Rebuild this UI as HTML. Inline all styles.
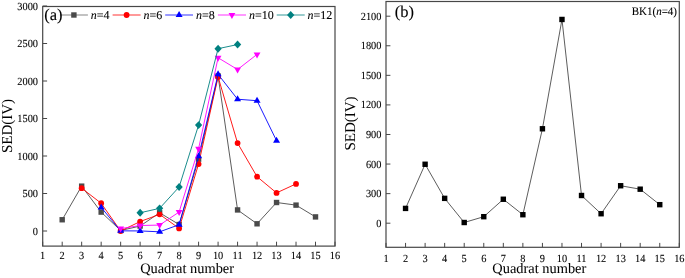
<!DOCTYPE html><html><head><meta charset="utf-8"><style>html,body{margin:0;padding:0;background:#fff;overflow:hidden}svg{display:block;will-change:transform}path{stroke:#000}text{font-family:"Liberation Serif",serif;fill:#000;stroke:#000;text-rendering:geometricPrecision}</style></head><body>
<svg width="685" height="278" viewBox="0 0 685 278">
<line x1="42.70" y1="246.10" x2="42.70" y2="241.70" stroke="#474747" stroke-width="1"/>
<text transform="translate(42.70,259.10) scale(0.94,1.0)" font-size="11" stroke-width="0.1" text-anchor="middle">1</text>
<line x1="62.19" y1="246.10" x2="62.19" y2="241.70" stroke="#474747" stroke-width="1"/>
<text transform="translate(62.19,259.10) scale(0.94,1.0)" font-size="11" stroke-width="0.1" text-anchor="middle">2</text>
<line x1="81.67" y1="246.10" x2="81.67" y2="241.70" stroke="#474747" stroke-width="1"/>
<text transform="translate(81.67,259.10) scale(0.94,1.0)" font-size="11" stroke-width="0.1" text-anchor="middle">3</text>
<line x1="101.16" y1="246.10" x2="101.16" y2="241.70" stroke="#474747" stroke-width="1"/>
<text transform="translate(101.16,259.10) scale(0.94,1.0)" font-size="11" stroke-width="0.1" text-anchor="middle">4</text>
<line x1="120.65" y1="246.10" x2="120.65" y2="241.70" stroke="#474747" stroke-width="1"/>
<text transform="translate(120.65,259.10) scale(0.94,1.0)" font-size="11" stroke-width="0.1" text-anchor="middle">5</text>
<line x1="140.13" y1="246.10" x2="140.13" y2="241.70" stroke="#474747" stroke-width="1"/>
<text transform="translate(140.13,259.10) scale(0.94,1.0)" font-size="11" stroke-width="0.1" text-anchor="middle">6</text>
<line x1="159.62" y1="246.10" x2="159.62" y2="241.70" stroke="#474747" stroke-width="1"/>
<text transform="translate(159.62,259.10) scale(0.94,1.0)" font-size="11" stroke-width="0.1" text-anchor="middle">7</text>
<line x1="179.11" y1="246.10" x2="179.11" y2="241.70" stroke="#474747" stroke-width="1"/>
<text transform="translate(179.11,259.10) scale(0.94,1.0)" font-size="11" stroke-width="0.1" text-anchor="middle">8</text>
<line x1="198.59" y1="246.10" x2="198.59" y2="241.70" stroke="#474747" stroke-width="1"/>
<text transform="translate(198.59,259.10) scale(0.94,1.0)" font-size="11" stroke-width="0.1" text-anchor="middle">9</text>
<line x1="218.08" y1="246.10" x2="218.08" y2="241.70" stroke="#474747" stroke-width="1"/>
<text transform="translate(218.08,259.10) scale(0.94,1.0)" font-size="11" stroke-width="0.1" text-anchor="middle">10</text>
<line x1="237.57" y1="246.10" x2="237.57" y2="241.70" stroke="#474747" stroke-width="1"/>
<text transform="translate(237.57,259.10) scale(0.94,1.0)" font-size="11" stroke-width="0.1" text-anchor="middle">11</text>
<line x1="257.05" y1="246.10" x2="257.05" y2="241.70" stroke="#474747" stroke-width="1"/>
<text transform="translate(257.05,259.10) scale(0.94,1.0)" font-size="11" stroke-width="0.1" text-anchor="middle">12</text>
<line x1="276.54" y1="246.10" x2="276.54" y2="241.70" stroke="#474747" stroke-width="1"/>
<text transform="translate(276.54,259.10) scale(0.94,1.0)" font-size="11" stroke-width="0.1" text-anchor="middle">13</text>
<line x1="296.03" y1="246.10" x2="296.03" y2="241.70" stroke="#474747" stroke-width="1"/>
<text transform="translate(296.03,259.10) scale(0.94,1.0)" font-size="11" stroke-width="0.1" text-anchor="middle">14</text>
<line x1="315.51" y1="246.10" x2="315.51" y2="241.70" stroke="#474747" stroke-width="1"/>
<text transform="translate(315.51,259.10) scale(0.94,1.0)" font-size="11" stroke-width="0.1" text-anchor="middle">15</text>
<line x1="335.00" y1="246.10" x2="335.00" y2="241.70" stroke="#474747" stroke-width="1"/>
<text transform="translate(335.00,259.10) scale(0.94,1.0)" font-size="11" stroke-width="0.1" text-anchor="middle">16</text>
<line x1="42.70" y1="231.00" x2="47.10" y2="231.00" stroke="#474747" stroke-width="1"/>
<text transform="translate(38.00,234.50) scale(0.94,1.0)" font-size="11" stroke-width="0.1" text-anchor="end">0</text>
<line x1="42.70" y1="193.50" x2="47.10" y2="193.50" stroke="#474747" stroke-width="1"/>
<text transform="translate(38.00,197.00) scale(0.94,1.0)" font-size="11" stroke-width="0.1" text-anchor="end">500</text>
<line x1="42.70" y1="156.00" x2="47.10" y2="156.00" stroke="#474747" stroke-width="1"/>
<text transform="translate(38.00,159.50) scale(0.94,1.0)" font-size="11" stroke-width="0.1" text-anchor="end">1000</text>
<line x1="42.70" y1="118.50" x2="47.10" y2="118.50" stroke="#474747" stroke-width="1"/>
<text transform="translate(38.00,122.00) scale(0.94,1.0)" font-size="11" stroke-width="0.1" text-anchor="end">1500</text>
<line x1="42.70" y1="81.00" x2="47.10" y2="81.00" stroke="#474747" stroke-width="1"/>
<text transform="translate(38.00,84.50) scale(0.94,1.0)" font-size="11" stroke-width="0.1" text-anchor="end">2000</text>
<line x1="42.70" y1="43.50" x2="47.10" y2="43.50" stroke="#474747" stroke-width="1"/>
<text transform="translate(38.00,47.00) scale(0.94,1.0)" font-size="11" stroke-width="0.1" text-anchor="end">2500</text>
<line x1="42.70" y1="6.00" x2="47.10" y2="6.00" stroke="#474747" stroke-width="1"/>
<text transform="translate(38.00,9.50) scale(0.94,1.0)" font-size="11" stroke-width="0.1" text-anchor="end">3000</text>
<polyline points="62.19,219.75 81.67,186.15 101.16,212.10 120.65,230.47 140.13,226.05 159.62,212.78 179.11,224.55 198.59,159.15 218.08,75.97 237.57,209.93 257.05,223.80 276.54,202.50 296.03,205.12 315.51,216.90" fill="none" stroke="#4a4a4a" stroke-width="0.9" stroke-linejoin="round"/>
<rect x="59.49" y="217.05" width="5.40" height="5.40" fill="#4a4a4a"/>
<rect x="78.97" y="183.45" width="5.40" height="5.40" fill="#4a4a4a"/>
<rect x="98.46" y="209.40" width="5.40" height="5.40" fill="#4a4a4a"/>
<rect x="117.95" y="227.78" width="5.40" height="5.40" fill="#4a4a4a"/>
<rect x="137.43" y="223.35" width="5.40" height="5.40" fill="#4a4a4a"/>
<rect x="156.92" y="210.08" width="5.40" height="5.40" fill="#4a4a4a"/>
<rect x="176.41" y="221.85" width="5.40" height="5.40" fill="#4a4a4a"/>
<rect x="195.89" y="156.45" width="5.40" height="5.40" fill="#4a4a4a"/>
<rect x="215.38" y="73.27" width="5.40" height="5.40" fill="#4a4a4a"/>
<rect x="234.87" y="207.23" width="5.40" height="5.40" fill="#4a4a4a"/>
<rect x="254.35" y="221.10" width="5.40" height="5.40" fill="#4a4a4a"/>
<rect x="273.84" y="199.80" width="5.40" height="5.40" fill="#4a4a4a"/>
<rect x="293.33" y="202.43" width="5.40" height="5.40" fill="#4a4a4a"/>
<rect x="312.81" y="214.20" width="5.40" height="5.40" fill="#4a4a4a"/>
<polyline points="81.67,188.18 101.16,203.25 120.65,231.00 140.13,221.55 159.62,214.35 179.11,228.38 198.59,164.03 218.08,76.88 237.57,143.10 257.05,176.70 276.54,192.90 296.03,183.90" fill="none" stroke="#ff0000" stroke-width="0.9" stroke-linejoin="round"/>
<circle cx="81.67" cy="188.18" r="2.90" fill="#ff0000"/>
<circle cx="101.16" cy="203.25" r="2.90" fill="#ff0000"/>
<circle cx="120.65" cy="231.00" r="2.90" fill="#ff0000"/>
<circle cx="140.13" cy="221.55" r="2.90" fill="#ff0000"/>
<circle cx="159.62" cy="214.35" r="2.90" fill="#ff0000"/>
<circle cx="179.11" cy="228.38" r="2.90" fill="#ff0000"/>
<circle cx="198.59" cy="164.03" r="2.90" fill="#ff0000"/>
<circle cx="218.08" cy="76.88" r="2.90" fill="#ff0000"/>
<circle cx="237.57" cy="143.10" r="2.90" fill="#ff0000"/>
<circle cx="257.05" cy="176.70" r="2.90" fill="#ff0000"/>
<circle cx="276.54" cy="192.90" r="2.90" fill="#ff0000"/>
<circle cx="296.03" cy="183.90" r="2.90" fill="#ff0000"/>
<polyline points="101.16,207.38 120.65,230.85 140.13,230.93 159.62,231.82 179.11,224.70 198.59,156.23 218.08,74.33 237.57,99.22 257.05,100.72 276.54,140.70" fill="none" stroke="#0000ff" stroke-width="0.9" stroke-linejoin="round"/>
<polygon points="101.16,203.38 104.66,209.38 97.66,209.38" fill="#0000ff"/>
<polygon points="120.65,226.85 124.15,232.85 117.15,232.85" fill="#0000ff"/>
<polygon points="140.13,226.93 143.63,232.93 136.63,232.93" fill="#0000ff"/>
<polygon points="159.62,227.82 163.12,233.82 156.12,233.82" fill="#0000ff"/>
<polygon points="179.11,220.70 182.61,226.70 175.61,226.70" fill="#0000ff"/>
<polygon points="198.59,152.23 202.09,158.23 195.09,158.23" fill="#0000ff"/>
<polygon points="218.08,70.33 221.58,76.33 214.58,76.33" fill="#0000ff"/>
<polygon points="237.57,95.22 241.07,101.22 234.07,101.22" fill="#0000ff"/>
<polygon points="257.05,96.72 260.55,102.72 253.55,102.72" fill="#0000ff"/>
<polygon points="276.54,136.70 280.04,142.70 273.04,142.70" fill="#0000ff"/>
<polyline points="120.65,228.60 140.13,225.53 159.62,225.07 179.11,212.03 198.59,148.65 218.08,57.75 237.57,69.53 257.05,54.38" fill="none" stroke="#ff00ff" stroke-width="0.9" stroke-linejoin="round"/>
<polygon points="120.65,232.60 124.05,226.60 117.25,226.60" fill="#ff00ff"/>
<polygon points="140.13,229.53 143.53,223.53 136.73,223.53" fill="#ff00ff"/>
<polygon points="159.62,229.07 163.02,223.07 156.22,223.07" fill="#ff00ff"/>
<polygon points="179.11,216.03 182.51,210.03 175.71,210.03" fill="#ff00ff"/>
<polygon points="198.59,152.65 201.99,146.65 195.19,146.65" fill="#ff00ff"/>
<polygon points="218.08,61.75 221.48,55.75 214.68,55.75" fill="#ff00ff"/>
<polygon points="237.57,73.53 240.97,67.53 234.17,67.53" fill="#ff00ff"/>
<polygon points="257.05,58.38 260.45,52.38 253.65,52.38" fill="#ff00ff"/>
<polyline points="140.13,212.78 159.62,208.35 179.11,186.97 198.59,125.10 218.08,48.68 237.57,44.55" fill="none" stroke="#008080" stroke-width="0.9" stroke-linejoin="round"/>
<polygon points="140.13,208.83 143.78,212.78 140.13,216.72 136.48,212.78" fill="#008080"/>
<polygon points="159.62,204.40 163.27,208.35 159.62,212.30 155.97,208.35" fill="#008080"/>
<polygon points="179.11,183.03 182.76,186.97 179.11,190.92 175.46,186.97" fill="#008080"/>
<polygon points="198.59,121.15 202.24,125.10 198.59,129.05 194.94,125.10" fill="#008080"/>
<polygon points="218.08,44.73 221.73,48.68 218.08,52.63 214.43,48.68" fill="#008080"/>
<polygon points="237.57,40.60 241.22,44.55 237.57,48.50 233.92,44.55" fill="#008080"/>
<rect x="42.70" y="6.50" width="292.30" height="239.60" fill="none" stroke="#474747" stroke-width="1.2"/>
<line x1="59.90" y1="15.0" x2="87.90" y2="15.0" stroke="#c2c2c2" stroke-width="2"/>
<rect x="71.20" y="12.30" width="5.40" height="5.40" fill="#4a4a4a"/>
<text transform="translate(90.80,19.20)" font-size="12" stroke-width="0.1"><tspan font-style="italic">n</tspan>=4</text>
<line x1="112.60" y1="15.0" x2="140.60" y2="15.0" stroke="#ff9999" stroke-width="2"/>
<circle cx="126.60" cy="15.00" r="2.90" fill="#ff0000"/>
<text transform="translate(143.50,19.20)" font-size="12" stroke-width="0.1"><tspan font-style="italic">n</tspan>=6</text>
<line x1="165.20" y1="15.0" x2="193.00" y2="15.0" stroke="#9999ff" stroke-width="2"/>
<polygon points="179.10,11.00 182.60,17.00 175.60,17.00" fill="#0000ff"/>
<text transform="translate(196.00,19.20)" font-size="12" stroke-width="0.1"><tspan font-style="italic">n</tspan>=8</text>
<line x1="217.90" y1="15.0" x2="246.00" y2="15.0" stroke="#ff99ff" stroke-width="2"/>
<polygon points="231.95,19.00 235.35,13.00 228.55,13.00" fill="#ff00ff"/>
<text transform="translate(248.90,19.20)" font-size="12" stroke-width="0.1"><tspan font-style="italic">n</tspan>=10</text>
<line x1="276.70" y1="15.0" x2="304.70" y2="15.0" stroke="#99cccc" stroke-width="2"/>
<polygon points="290.70,11.05 294.35,15.00 290.70,18.95 287.05,15.00" fill="#008080"/>
<text transform="translate(307.60,19.20)" font-size="12" stroke-width="0.1"><tspan font-style="italic">n</tspan>=12</text>
<text transform="translate(44.30,19.80)" font-size="16.5" stroke-width="0.1">(a)</text>
<text transform="translate(12.00,126.00) rotate(-90)" font-size="15" stroke-width="0.05" text-anchor="middle">SED(IV)</text>
<text transform="translate(187.10,273.10)" font-size="14.4" stroke-width="0.05" text-anchor="middle">Quadrat number</text>
<line x1="386.00" y1="247.30" x2="386.00" y2="242.90" stroke="#474747" stroke-width="1"/>
<text transform="translate(386.00,261.80) scale(0.94,1.0)" font-size="11" stroke-width="0.1" text-anchor="middle">1</text>
<line x1="405.55" y1="247.30" x2="405.55" y2="242.90" stroke="#474747" stroke-width="1"/>
<text transform="translate(405.55,261.80) scale(0.94,1.0)" font-size="11" stroke-width="0.1" text-anchor="middle">2</text>
<line x1="425.11" y1="247.30" x2="425.11" y2="242.90" stroke="#474747" stroke-width="1"/>
<text transform="translate(425.11,261.80) scale(0.94,1.0)" font-size="11" stroke-width="0.1" text-anchor="middle">3</text>
<line x1="444.66" y1="247.30" x2="444.66" y2="242.90" stroke="#474747" stroke-width="1"/>
<text transform="translate(444.66,261.80) scale(0.94,1.0)" font-size="11" stroke-width="0.1" text-anchor="middle">4</text>
<line x1="464.21" y1="247.30" x2="464.21" y2="242.90" stroke="#474747" stroke-width="1"/>
<text transform="translate(464.21,261.80) scale(0.94,1.0)" font-size="11" stroke-width="0.1" text-anchor="middle">5</text>
<line x1="483.77" y1="247.30" x2="483.77" y2="242.90" stroke="#474747" stroke-width="1"/>
<text transform="translate(483.77,261.80) scale(0.94,1.0)" font-size="11" stroke-width="0.1" text-anchor="middle">6</text>
<line x1="503.32" y1="247.30" x2="503.32" y2="242.90" stroke="#474747" stroke-width="1"/>
<text transform="translate(503.32,261.80) scale(0.94,1.0)" font-size="11" stroke-width="0.1" text-anchor="middle">7</text>
<line x1="522.87" y1="247.30" x2="522.87" y2="242.90" stroke="#474747" stroke-width="1"/>
<text transform="translate(522.87,261.80) scale(0.94,1.0)" font-size="11" stroke-width="0.1" text-anchor="middle">8</text>
<line x1="542.43" y1="247.30" x2="542.43" y2="242.90" stroke="#474747" stroke-width="1"/>
<text transform="translate(542.43,261.80) scale(0.94,1.0)" font-size="11" stroke-width="0.1" text-anchor="middle">9</text>
<line x1="561.98" y1="247.30" x2="561.98" y2="242.90" stroke="#474747" stroke-width="1"/>
<text transform="translate(561.98,261.80) scale(0.94,1.0)" font-size="11" stroke-width="0.1" text-anchor="middle">10</text>
<line x1="581.53" y1="247.30" x2="581.53" y2="242.90" stroke="#474747" stroke-width="1"/>
<text transform="translate(581.53,261.80) scale(0.94,1.0)" font-size="11" stroke-width="0.1" text-anchor="middle">11</text>
<line x1="601.09" y1="247.30" x2="601.09" y2="242.90" stroke="#474747" stroke-width="1"/>
<text transform="translate(601.09,261.80) scale(0.94,1.0)" font-size="11" stroke-width="0.1" text-anchor="middle">12</text>
<line x1="620.64" y1="247.30" x2="620.64" y2="242.90" stroke="#474747" stroke-width="1"/>
<text transform="translate(620.64,261.80) scale(0.94,1.0)" font-size="11" stroke-width="0.1" text-anchor="middle">13</text>
<line x1="640.19" y1="247.30" x2="640.19" y2="242.90" stroke="#474747" stroke-width="1"/>
<text transform="translate(640.19,261.80) scale(0.94,1.0)" font-size="11" stroke-width="0.1" text-anchor="middle">14</text>
<line x1="659.75" y1="247.30" x2="659.75" y2="242.90" stroke="#474747" stroke-width="1"/>
<text transform="translate(659.75,261.80) scale(0.94,1.0)" font-size="11" stroke-width="0.1" text-anchor="middle">15</text>
<line x1="679.30" y1="247.30" x2="679.30" y2="242.90" stroke="#474747" stroke-width="1"/>
<text transform="translate(679.30,261.80) scale(0.94,1.0)" font-size="11" stroke-width="0.1" text-anchor="middle">16</text>
<line x1="386.00" y1="223.20" x2="390.40" y2="223.20" stroke="#474747" stroke-width="1"/>
<text transform="translate(381.40,226.70) scale(0.94,1.0)" font-size="11" stroke-width="0.1" text-anchor="end">0</text>
<line x1="386.00" y1="193.63" x2="390.40" y2="193.63" stroke="#474747" stroke-width="1"/>
<text transform="translate(381.40,197.13) scale(0.94,1.0)" font-size="11" stroke-width="0.1" text-anchor="end">300</text>
<line x1="386.00" y1="164.06" x2="390.40" y2="164.06" stroke="#474747" stroke-width="1"/>
<text transform="translate(381.40,167.56) scale(0.94,1.0)" font-size="11" stroke-width="0.1" text-anchor="end">600</text>
<line x1="386.00" y1="134.49" x2="390.40" y2="134.49" stroke="#474747" stroke-width="1"/>
<text transform="translate(381.40,137.99) scale(0.94,1.0)" font-size="11" stroke-width="0.1" text-anchor="end">900</text>
<line x1="386.00" y1="104.92" x2="390.40" y2="104.92" stroke="#474747" stroke-width="1"/>
<text transform="translate(381.40,108.42) scale(0.94,1.0)" font-size="11" stroke-width="0.1" text-anchor="end">1200</text>
<line x1="386.00" y1="75.34" x2="390.40" y2="75.34" stroke="#474747" stroke-width="1"/>
<text transform="translate(381.40,78.84) scale(0.94,1.0)" font-size="11" stroke-width="0.1" text-anchor="end">1500</text>
<line x1="386.00" y1="45.77" x2="390.40" y2="45.77" stroke="#474747" stroke-width="1"/>
<text transform="translate(381.40,49.27) scale(0.94,1.0)" font-size="11" stroke-width="0.1" text-anchor="end">1800</text>
<line x1="386.00" y1="16.20" x2="390.40" y2="16.20" stroke="#474747" stroke-width="1"/>
<text transform="translate(381.40,19.70) scale(0.94,1.0)" font-size="11" stroke-width="0.1" text-anchor="end">2100</text>
<polyline points="405.55,208.41 425.11,164.26 444.66,198.36 464.21,222.51 483.77,216.69 503.32,199.25 522.87,214.72 542.43,128.77 561.98,19.46 581.53,195.50 601.09,213.74 620.64,185.74 640.19,189.19 659.75,204.67" fill="none" stroke="#333333" stroke-width="0.8" stroke-linejoin="round"/>
<rect x="402.85" y="205.71" width="5.40" height="5.40" fill="#000000"/>
<rect x="422.41" y="161.56" width="5.40" height="5.40" fill="#000000"/>
<rect x="441.96" y="195.66" width="5.40" height="5.40" fill="#000000"/>
<rect x="461.51" y="219.81" width="5.40" height="5.40" fill="#000000"/>
<rect x="481.07" y="213.99" width="5.40" height="5.40" fill="#000000"/>
<rect x="500.62" y="196.55" width="5.40" height="5.40" fill="#000000"/>
<rect x="520.17" y="212.02" width="5.40" height="5.40" fill="#000000"/>
<rect x="539.73" y="126.07" width="5.40" height="5.40" fill="#000000"/>
<rect x="559.28" y="16.76" width="5.40" height="5.40" fill="#000000"/>
<rect x="578.83" y="192.80" width="5.40" height="5.40" fill="#000000"/>
<rect x="598.39" y="211.04" width="5.40" height="5.40" fill="#000000"/>
<rect x="617.94" y="183.04" width="5.40" height="5.40" fill="#000000"/>
<rect x="637.49" y="186.49" width="5.40" height="5.40" fill="#000000"/>
<rect x="657.05" y="201.97" width="5.40" height="5.40" fill="#000000"/>
<rect x="386.00" y="1.50" width="293.30" height="245.80" fill="none" stroke="#474747" stroke-width="1.2"/>
<text transform="translate(394.70,16.70)" font-size="16.5" stroke-width="0.1">(b)</text>
<text transform="translate(677.00,14.70) scale(0.955,1.0)" font-size="11.5" stroke-width="0.1" text-anchor="end">BK1(<tspan font-style="italic">n</tspan>=4)</text>
<text transform="translate(355.40,123.50) rotate(-90)" font-size="15" stroke-width="0.05" text-anchor="middle">SED(IV)</text>
<text transform="translate(539.30,273.10)" font-size="14.4" stroke-width="0.05" text-anchor="middle">Quadrat number</text>
</svg></body></html>
